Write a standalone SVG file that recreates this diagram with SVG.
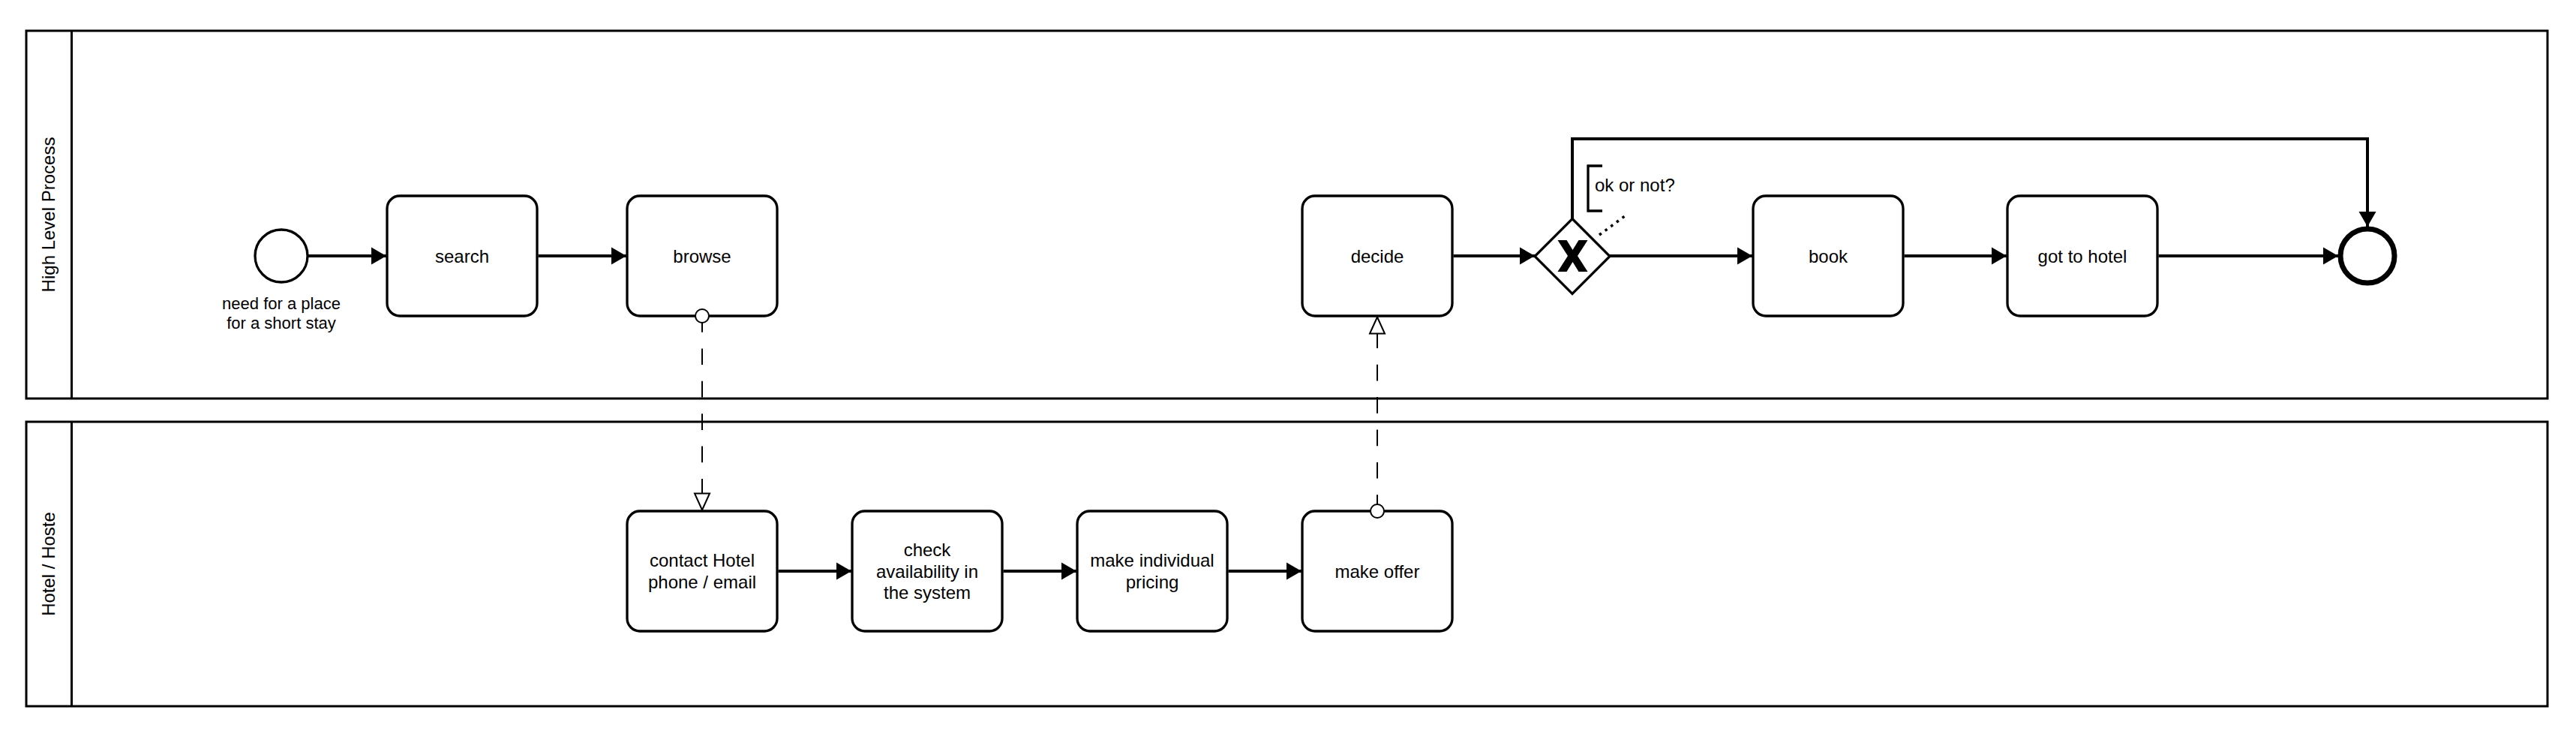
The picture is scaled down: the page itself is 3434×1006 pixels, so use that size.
<svg xmlns="http://www.w3.org/2000/svg" width="3434" height="1006" viewBox="0 0 3434 1006">
<style>
  text { font-family: "Liberation Sans", Arial, Helvetica, sans-serif; fill: #000; }
  .lane { fill: #fff; stroke: #000; stroke-width: 3; }
  .task { fill: #fff; stroke: #000; stroke-width: 3.3; }
  .lbl { font-size: 24px; text-anchor: middle; }
  .seq { fill: none; stroke: #000; stroke-width: 4; marker-end: url(#arrowFilled); }
  .msg { fill: none; stroke: #000; stroke-width: 2; stroke-dasharray: 21.7 21.7; marker-end: url(#arrowOpen); }
  .msgStart { fill: #fff; stroke: #000; stroke-width: 2; }
</style>
<defs>
  <marker id="arrowFilled" markerUnits="userSpaceOnUse" markerWidth="22" markerHeight="24" refX="20" refY="11.5" orient="auto" overflow="visible">
    <path d="M0,0 L20,11.5 L0,23 Z" fill="#000" stroke="none"/>
  </marker>
  <marker id="arrowOpen" markerUnits="userSpaceOnUse" markerWidth="24" markerHeight="22" refX="22" refY="10" orient="auto" overflow="visible">
    <path d="M0,0 L22,10 L0,20 Z" fill="#fff" stroke="#000" stroke-width="2" stroke-dasharray="none"/>
  </marker>
</defs>
<rect width="3434" height="1006" fill="#fff"/>

<g id="lane-high-level">
  <rect class="lane" x="35" y="41" width="3361" height="490"/>
  <line x1="95.5" y1="41" x2="95.5" y2="531" stroke="#000" stroke-width="3"/>
  <text class="lbl" transform="translate(73,286) rotate(-90)">High Level Process</text>
</g>
<g id="lane-hotel">
  <rect class="lane" x="35" y="562" width="3361" height="379"/>
  <line x1="95.5" y1="562" x2="95.5" y2="941" stroke="#000" stroke-width="3"/>
  <text class="lbl" transform="translate(73,751.5) rotate(-90)">Hotel / Hoste</text>
</g>

<g id="start">
  <circle cx="375" cy="341" r="35" fill="#fff" stroke="#000" stroke-width="3.3"/>
  <text font-size="22" text-anchor="middle" x="375" y="411.5">need for a place</text>
  <text font-size="22" text-anchor="middle" x="375" y="438">for a short stay</text>
</g>
<g id="search">
  <rect class="task" x="516" y="261" width="200" height="160" rx="17"/>
  <text class="lbl" x="616" y="349.5">search</text>
</g>
<g id="browse">
  <rect class="task" x="836" y="261" width="200" height="160" rx="17"/>
  <text class="lbl" x="936" y="349.5">browse</text>
</g>
<g id="decide">
  <rect class="task" x="1736" y="261" width="200" height="160" rx="17"/>
  <text class="lbl" x="1836" y="349.5">decide</text>
</g>
<g id="gateway">
  <polygon points="2096,291.5 2146,341.5 2096,391.5 2046,341.5" fill="#fff" stroke="#000" stroke-width="3.3"/>
  <polygon transform="translate(2096.5,341)" points="-20,-21 -8,-21 0,-8 8,-21 20,-21 6.5,0 20,21 8,21 0,8 -8,21 -20,21 -6.5,0" fill="#000"/>
</g>
<g id="annotation">
  <path d="M2136,221 L2117,221 L2117,281 L2136,281" fill="none" stroke="#000" stroke-width="3.3"/>
  <text font-size="24" x="2126" y="255">ok or not?</text>
</g>
<g id="book">
  <rect class="task" x="2337" y="261" width="200" height="160" rx="17"/>
  <text class="lbl" x="2437" y="349.5">book</text>
</g>
<g id="got-to-hotel">
  <rect class="task" x="2676" y="261" width="200" height="160" rx="17"/>
  <text class="lbl" x="2776" y="349.5">got to hotel</text>
</g>
<g id="end">
  <circle cx="3156" cy="341" r="36" fill="#fff" stroke="#000" stroke-width="7"/>
</g>

<g id="contact-hotel">
  <rect class="task" x="836" y="681" width="200" height="160" rx="17"/>
  <text class="lbl" x="936" y="755">contact Hotel</text>
  <text class="lbl" x="936" y="784">phone / email</text>
</g>
<g id="check-availability">
  <rect class="task" x="1136" y="681" width="200" height="160" rx="17"/>
  <text class="lbl" x="1236" y="740.5">check</text>
  <text class="lbl" x="1236" y="769.5">availability in</text>
  <text class="lbl" x="1236" y="798">the system</text>
</g>
<g id="make-pricing">
  <rect class="task" x="1436" y="681" width="200" height="160" rx="17"/>
  <text class="lbl" x="1536" y="755">make individual</text>
  <text class="lbl" x="1536" y="784">pricing</text>
</g>
<g id="make-offer">
  <rect class="task" x="1736" y="681" width="200" height="160" rx="17"/>
  <text class="lbl" x="1836" y="769.5">make offer</text>
</g>

<g id="connectors">
  <path class="seq" d="M410.5,341 L515,341"/>
  <path class="seq" d="M717.5,341 L835,341"/>
  <path class="seq" d="M1937.5,341 L2046,341"/>
  <path class="seq" d="M2146,341 L2336,341"/>
  <path class="seq" d="M2538.5,341 L2675,341"/>
  <path class="seq" d="M2877.5,341 L3117,341"/>
  <path class="seq" d="M2096,291.5 L2096,185 L3156,185 L3156,302"/>
  <path class="seq" d="M1037.5,761 L1135,761"/>
  <path class="seq" d="M1337.5,761 L1435,761"/>
  <path class="seq" d="M1637.5,761 L1735,761"/>
  <path class="msg" d="M936,421 L936,679.5"/>
  <circle class="msgStart" cx="936" cy="421" r="9"/>
  <path class="msg" d="M1836,681 L1836,422.5"/>
  <circle class="msgStart" cx="1836" cy="681" r="9"/>
  <path d="M2132,313 L2170,285" fill="none" stroke="#000" stroke-width="3.5" stroke-dasharray="3.5 6"/>
</g>
</svg>
